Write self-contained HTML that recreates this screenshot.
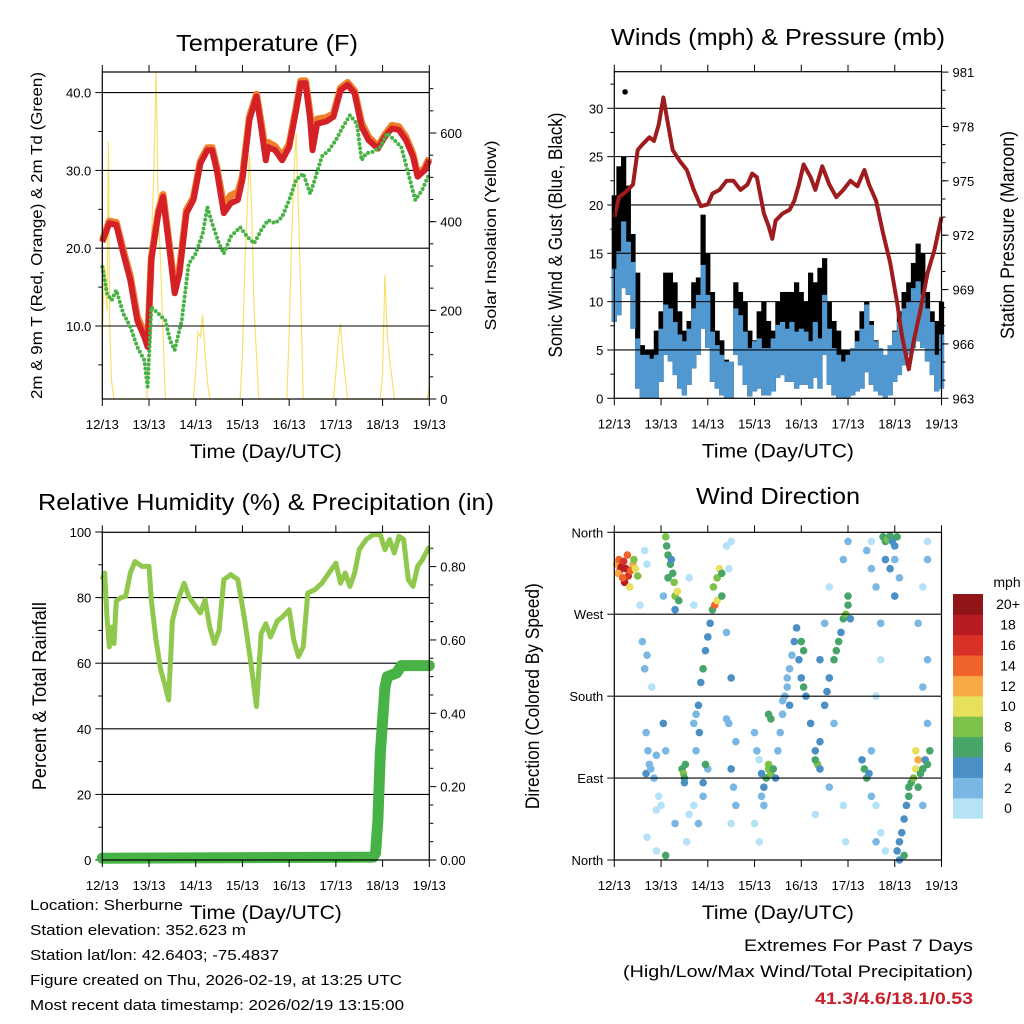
<!DOCTYPE html>
<html><head><meta charset="utf-8"><style>
html,body{margin:0;padding:0;background:#fff}
svg{display:block;font-family:"Liberation Sans",Arial,sans-serif}
</style></head><body>
<svg id="chart" width="1024" height="1024" viewBox="0 0 1024 1024" xmlns="http://www.w3.org/2000/svg">
<rect width="1024" height="1024" fill="#fff"/>
<g id="temp"></g>
<g id="wind"></g>
<g id="rh"></g>
<g id="dir"></g>
<g font-size="15" fill="#000">
<text x="30" y="910" textLength="153" lengthAdjust="spacingAndGlyphs">Location: Sherburne</text>
<text x="30" y="935" textLength="216" lengthAdjust="spacingAndGlyphs">Station elevation: 352.623 m</text>
<text x="30" y="960" textLength="249" lengthAdjust="spacingAndGlyphs">Station lat/lon: 42.6403; -75.4837</text>
<text x="30" y="985" textLength="372" lengthAdjust="spacingAndGlyphs">Figure created on Thu, 2026-02-19, at 13:25 UTC</text>
<text x="30" y="1010" textLength="374" lengthAdjust="spacingAndGlyphs">Most recent data timestamp: 2026/02/19 13:15:00</text>
</g>
<g text-anchor="end">
<text x="973" y="951" font-size="17" textLength="229" lengthAdjust="spacingAndGlyphs">Extremes For Past 7 Days</text>
<text x="973" y="977" font-size="17" textLength="350" lengthAdjust="spacingAndGlyphs">(High/Low/Max Wind/Total Precipitation)</text>
<text x="973" y="1004" font-size="17" font-weight="bold" fill="#c8202a" textLength="158" lengthAdjust="spacingAndGlyphs">41.3/4.6/18.1/0.53</text>
</g>
</svg>
<script>
// ---------- data ----------
const dayLabels = ["12/13","13/13","14/13","15/13","16/13","17/13","18/13","19/13"];
const tDays = [0,0.15,0.3,0.45,0.6,0.75,0.9,0.97,1.05,1.2,1.3,1.45,1.55,1.65,1.8,1.95,2.1,2.25,2.35,2.45,2.6,2.75,2.9,3.0,3.15,3.3,3.4,3.5,3.55,3.7,3.85,4.0,4.15,4.25,4.35,4.45,4.5,4.6,4.8,4.95,5.1,5.25,5.4,5.55,5.7,5.9,6.05,6.2,6.35,6.5,6.65,6.75,6.9,7.0];
const temp2m = [20.8,23.2,23,19.3,15.9,10.7,8.6,7.3,18.5,24.5,26.6,19.3,14.2,16.7,24.5,26.2,30.9,32.6,32.6,30,24.5,25.8,26.2,28.8,36.5,39.5,35.6,31.3,33,32.6,31.3,33,37.8,41.2,41.2,36.5,32.6,36,36.3,36.9,40.3,41,39.9,35.6,33.9,32.8,34.3,35.4,35.2,33.9,31.8,29.2,30,31.3];
const temp9m = [21.0,23.5,23.3,19.7,16.4,11.2,9.1,7.6,18.8,24.8,26.9,19.8,14.8,17.2,24.9,26.5,31.2,32.9,32.9,30.4,25.4,26.8,27.2,29.2,36.9,39.8,36.2,32.2,33.6,33.1,31.8,33.4,38.1,41.5,41.5,37.2,34.0,36.6,36.8,37.3,40.6,41.3,40.2,36.1,34.3,33.1,34.6,35.8,35.6,34.3,32.1,29.5,30.3,31.6];
const tdDays = [0,0.1,0.2,0.3,0.45,0.6,0.75,0.9,0.97,1.05,1.2,1.35,1.45,1.55,1.7,1.85,2.0,2.15,2.25,2.35,2.5,2.6,2.75,2.95,3.1,3.25,3.4,3.55,3.7,3.85,4.0,4.15,4.3,4.45,4.55,4.7,4.85,5.0,5.15,5.3,5.45,5.55,5.65,5.8,5.95,6.1,6.25,6.4,6.55,6.7,6.85,7.0];
const dewpt = [17.6,14.2,13.3,14.6,11.6,9.9,7.3,5.6,2.2,12.4,11.6,10.7,8.2,6.9,10.7,18,19.3,21.9,25.3,23.2,20.6,19.3,21.5,22.7,21.5,20.6,22.3,23.6,23.2,24,26.2,28.8,29.6,27,28.8,31.8,32.6,33.9,35.6,37.1,36,31.3,32.2,32.4,33,34.8,33.9,33,29.6,26.2,27.5,29.6];
const solarDays = [0,0.05,0.1,0.13,0.16,0.2,0.25,0.95,1.0,1.05,1.1,1.15,1.2,1.25,1.3,1.35,1.95,2.0,2.05,2.1,2.15,2.2,2.25,2.3,2.95,3.0,3.05,3.1,3.15,3.2,3.25,3.3,3.35,3.95,4.0,4.05,4.1,4.15,4.2,4.25,4.3,4.95,5.0,5.05,5.1,5.15,5.2,5.25,5.95,6.0,6.05,6.1,6.15,6.2,6.25,6.95,7.0];
const solarVals = [140,300,200,580,150,40,0,0,100,350,500,740,420,300,150,0,0,60,150,140,190,100,40,0,0,100,300,420,550,420,200,100,0,0,150,350,500,600,420,230,0,0,60,130,170,100,50,0,0,60,280,140,90,50,0,0,25];

const presDays = [0,0.1,0.25,0.4,0.5,0.6,0.75,0.85,0.95,1.05,1.15,1.25,1.4,1.55,1.7,1.85,2.0,2.1,2.25,2.4,2.55,2.7,2.85,2.95,3.05,3.2,3.3,3.38,3.45,3.6,3.75,3.85,3.95,4.05,4.2,4.3,4.45,4.6,4.75,4.9,5.05,5.2,5.35,5.45,5.6,5.75,5.9,6.05,6.15,6.3,6.4,6.55,6.7,6.85,7.0];
const pressure = [973.0,974.1,974.4,974.8,976.7,977.0,977.4,977.2,978.1,979.6,978.1,976.7,976.1,975.6,974.5,973.6,973.7,974.3,974.5,975.0,975.0,974.5,974.8,975.4,975.2,973.2,972.5,971.8,972.8,973.2,973.4,973.9,974.8,975.9,975.2,974.5,975.8,974.8,974.1,974.5,975.0,974.7,975.6,974.8,973.9,972.1,970.5,968.3,966.5,964.6,966.1,967.9,969.9,971.2,973.0];
const windHi = [13.4,15.2,18.3,16.2,14.1,6.2,4.5,4.5,4.1,4.5,7.2,9.7,9.3,7.9,6.6,5.9,7.2,9.3,10.7,13.8,10.7,6.9,5.5,4.5,3.8,3.8,9.3,8.6,6.9,5.2,5.9,6.2,5.2,5.2,6.2,7.6,7.9,7.2,7.9,6.9,7.2,6.9,5.9,7.9,6.2,10.7,7.2,5.2,4.5,3.8,4.5,5.2,5.9,7.2,9.7,7.6,5.9,5.2,4.5,5.5,6.9,7.9,9.3,10,11.4,12.1,10.7,9.3,7.9,4.5,6.6];
const windLo = [7.9,8.6,11.4,10.7,7.2,1,0,0,0,0,1.7,4.5,3.8,2.4,1,0.3,1.4,3.1,4.5,7.2,5.2,1.7,1,0.3,0,0,4.5,3.4,1.4,0.2,0.7,1,0.3,0.3,0.7,2.1,2.4,1.7,1.7,1,1.4,1.4,1,2.1,1,4.5,1.4,0.3,0,0,0,0.3,0.7,1,2.7,1.4,0.7,0.3,0,0.3,1.7,2.4,3.4,4.5,5.2,5.9,5.2,3.8,2.4,0.7,1];
const gustHi = [21,24,25,22,17,13,5.5,5,5,7,9,13,13,12,9,7,8,12,12.5,19,15,11,7,6,4,3.8,12,11,10,7,6,9,10,8,7,10,11,11,11,12,11,10,13,12,13.5,14.5,10,8,7,5,5,5,7,9,10,8,6,4.5,4,5,7,9,11,12,14,16,15,11,9,8,10];
const gustOutlierDay = [0.23];
const gustOutlierVal = [31.7];

const rhDays = [0,0.05,0.1,0.15,0.2,0.25,0.3,0.4,0.5,0.6,0.7,0.85,1.0,1.05,1.15,1.25,1.35,1.42,1.5,1.6,1.75,1.85,1.95,2.1,2.2,2.3,2.4,2.5,2.6,2.75,2.9,3.05,3.2,3.3,3.4,3.5,3.6,3.75,3.85,4.0,4.1,4.2,4.3,4.4,4.55,4.7,4.85,5.0,5.1,5.2,5.3,5.4,5.5,5.65,5.8,5.95,6.05,6.15,6.25,6.35,6.45,6.55,6.65,6.75,6.85,7.0];
const rhVals = [85.5,87.5,74,65,71,66,79,80,80.4,87.5,91,89.5,89.5,79.3,67,58,52.9,48.8,73,78.3,84.4,80.4,78.3,75.3,79.3,71,66,70,85.5,87,85.5,73,58,46.8,69,72,68,73,74,76.3,67,62,65,81.4,82.4,84.4,87.5,90.5,84.4,87.5,83.4,87.5,94.6,97.7,99.2,99.2,94.6,97.7,93.6,98.7,97.7,85.5,83.4,89.5,91.5,95.6];
const prDays = [0,5.8,5.85,5.9,5.95,6.0,6.05,6.1,6.3,6.4,7.0];
const prVals = [0.005,0.008,0.02,0.11,0.29,0.38,0.47,0.5,0.51,0.53,0.53];

const dirDays = [0.05,0.1,0.12,0.15,0.2,0.25,0.3,0.22,0.35,0.4,0.45,0.5,0.28,0.08,0.18,0.33,0.42,
0.65,0.7,0.55,0.6,0.7,0.65,0.8,0.68,0.72,0.75,0.68,0.78,0.85,0.9,0.95,0.9,0.7,0.9,1.1,
1.1,1.12,1.15,1.2,1.25,1.28,1.3,1.35,1.38,1.15,1.22,1.3,1.05,
1.45,1.48,1.5,1.52,1.5,1.05,1.1,1.0,1.3,1.6,1.55,1.6,1.7,
1.7,1.75,1.8,1.85,1.9,1.95,2.0,2.05,2.1,2.15,2.2,2.12,2.2,2.25,2.3,2.3,1.82,1.75,1.7,1.8,1.9,2.0,1.9,1.95,
2.4,2.5,2.45,2.4,2.5,2.45,2.5,2.55,2.6,2.5,2.4,2.6,
3.0,3.05,3.1,3.15,3.2,3.25,3.3,3.3,3.35,3.4,3.45,3.2,3.0,3.1,3.3,3.35,3.15,
3.5,3.55,3.6,3.65,3.7,3.75,3.8,3.85,3.95,4.0,4.05,4.1,3.9,4.0,4.05,3.6,3.7,3.75,4.2,4.3,4.35,4.3,4.4,4.4,4.5,4.55,4.6,4.7,4.75,4.8,4.85,4.9,4.95,5.0,5.05,5.0,4.9,5.0,
4.3,4.4,4.5,4.6,4.7,4.6,4.9,4.95,
5.3,5.35,5.4,5.45,5.5,5.5,5.6,5.7,5.8,5.6,5.5,5.4,5.5,5.6,5.7,5.7,5.6,
5.75,5.8,5.85,5.9,5.95,6.0,6.05,5.8,5.9,6.0,6.1,6.0,
6.05,6.1,6.15,6.2,6.25,6.3,6.3,6.35,6.4,6.45,6.5,6.55,6.45,6.5,6.6,6.65,6.7,6.75,6.2,6.1,6.7,6.6,6.7,6.5,6.6,6.7,6.7,6.6];
const dirDeg = [325,330,318,322,328,320,312,305,318,325,320,312,335,315,310,300,330,
340,325,280,240,225,210,190,140,120,105,95,100,90,115,70,55,25,10,5,
355,345,335,325,315,305,290,295,285,310,330,275,290,
100,95,90,105,85,150,120,60,40,50,20,310,280,
150,160,170,195,210,230,245,260,275,280,285,300,310,320,315,290,140,120,60,40,70,100,85,105,
345,350,320,250,200,150,100,80,60,40,155,130,
140,120,110,95,80,90,100,105,95,100,90,60,40,20,160,155,70,
120,140,160,180,200,210,225,240,220,200,190,180,255,240,230,175,190,170,150,120,105,110,100,130,170,185,200,220,230,240,250,265,270,280,265,290,330,350,
50,220,260,300,150,80,60,20,
110,100,90,95,70,120,60,30,10,20,350,340,320,300,260,220,180,
355,350,352,356,350,345,355,330,320,330,310,290,
10,20,30,45,60,70,80,85,90,100,110,95,120,80,100,110,105,120,5,0,150,190,220,260,300,330,350,60];
const dirSpd = [12,14,16,18,16,18,16,18,14,12,10,8,14,12,14,10,8,
1,1,1,2,2,3,1,3,2,3,4,3,2,2,1,0,1,1,6,
8,6,6,6,6,8,8,10,6,6,4,4,2,
6,8,6,6,4,4,2,1,2,1,1,1,1,
2,2,4,4,6,4,4,4,6,14,10,8,8,10,6,6,4,2,1,2,2,2,4,6,
1,1,1,2,4,2,4,2,2,1,2,2,
2,2,1,4,4,6,8,8,8,6,4,2,1,1,6,6,2,
2,2,2,2,2,2,2,4,4,4,6,4,4,6,6,2,2,4,4,4,8,6,4,4,4,4,4,6,6,6,4,6,8,6,4,6,2,2,
1,4,2,1,2,2,1,1,
4,6,6,4,2,2,1,1,1,2,1,2,2,2,2,1,1,
6,6,8,6,4,4,6,4,4,2,2,4,
4,4,4,4,4,6,6,6,8,10,12,6,10,6,6,4,6,6,6,4,2,2,2,2,1,2,1,2];
const speedColors = ["#b6e2f7","#7ab7e2","#4a8fc6","#47a56a","#7cc14a","#e6e05a","#f7a945","#ef6229","#d93127","#b71c22","#8f1519"];
const speedLabels = ["0","2","4","6","8","10","12","14","16","18","20+"];

// ---------- helpers ----------
const NS = "http://www.w3.org/2000/svg";
function mk(parent, tag, attrs, text) {
  const e = document.createElementNS(NS, tag);
  for (const k in attrs) e.setAttribute(k, attrs[k]);
  if (text !== undefined) e.textContent = text;
  parent.appendChild(e);
  return e;
}
function linear(d0, d1, r0, r1) { return v => r0 + (v - d0) * (r1 - r0) / (d1 - d0); }
function pathFrom(xs, ys, fx, fy) {
  return xs.map((x, i) => (i ? "L" : "M") + fx(x).toFixed(1) + "," + fy(ys[i]).toFixed(1)).join("");
}
function seqDays(n) { const a = []; for (let i = 0; i < n; i++) a.push(i * 7 / (n - 1)); return a; }

function frame(g, P, fx) {
  dayLabels.forEach((lab, i) => {
    const x = fx(i);
    const tb = mk(g, "line", {x1:x, x2:x, y1:P.y1, y2:P.y1 + 7, stroke:"#000", "stroke-width":1});
    
    
    const tt = mk(g, "line", {x1:x, x2:x, y1:P.y0, y2:P.y0 - 7, stroke:"#000", "stroke-width":1});
    
    
    const t = mk(g, "text", {x:x, y:P.y1 + 30, "font-size":13, "text-anchor":"middle", textLength:33, lengthAdjust:"spacingAndGlyphs"}, lab);
    
    
  });
  const xt = mk(g, "text", {x:(P.x0 + P.x1) / 2, y:P.y1 + 59, "font-size":19, "text-anchor":"middle", textLength:152, lengthAdjust:"spacingAndGlyphs"}, "Time (Day/UTC)");
  
  
}
function yAxis(g, P, fy, ticks, minors, fmt, side, grid) {
  const xe = side === "left" ? P.x0 : P.x1;
  const dir = side === "left" ? -1 : 1;
  minors.forEach(v => {
    const y = fy(v);
    const m = mk(g, "line", {x1:xe, x2:xe + dir * 4, y1:y, y2:y, stroke:"#000", "stroke-width":1});
    
    
  });
  ticks.forEach(v => {
    const y = fy(v);
    if (grid && y > P.y0 + 2 && y < P.y1 - 2) {
      const gl = mk(g, "line", {x1:P.x0, x2:P.x1, y1:y, y2:y, stroke:"#000", "stroke-width":1.1});
      
      
    }
    const t = mk(g, "line", {x1:xe, x2:xe + dir * 7, y1:y, y2:y, stroke:"#000", "stroke-width":1});
    
    
    const lab = mk(g, "text", {x:xe + dir * 11, y:y + 5, "font-size":13, "text-anchor":side === "left" ? "end" : "start"}, fmt(v));
    
    
  });
}
function border(g, P) {
  const b = mk(g, "rect", {x:P.x0, y:P.y0, width:P.x1 - P.x0, height:P.y1 - P.y0, fill:"none", stroke:"#000", "stroke-width":1.2});
  
  
}
function titles(g, P, title, cx, ty, tlen, lt, lx, llen, rt, rx, rlen, fs) {
  const t = mk(g, "text", {x:cx, y:ty, "font-size":23, "text-anchor":"middle", textLength:tlen, lengthAdjust:"spacingAndGlyphs"}, title);
  
  
  const cy = (P.y0 + P.y1) / 2;
  const l = mk(g, "text", {x:lx, y:cy, "font-size":fs, "text-anchor":"middle", transform:`rotate(-90 ${lx} ${cy})`, textLength:llen, lengthAdjust:"spacingAndGlyphs"}, lt);
  
  
  if (rt) {
    const r = mk(g, "text", {x:rx, y:cy, "font-size":fs, "text-anchor":"middle", transform:`rotate(-90 ${rx} ${cy})`, textLength:rlen, lengthAdjust:"spacingAndGlyphs"}, rt);
    
    
  }
}
function range(a, b, s) { const r = []; for (let v = a; v <= b + 1e-9; v += s) r.push(+v.toFixed(4)); return r; }

// ---------- Temperature panel ----------
(function () {
  const g = document.getElementById("temp");
  const P = {x0:102.3, x1:429.3, y0:72, y1:399};
  const fx = linear(0, 7, P.x0, P.x1);
  const fy = linear(10, 40, 326, 92.6);
  const fs = linear(0, 600, 399, 133);
  const sp = mk(g, "path", {d:pathFrom(solarDays, solarVals, fx, fs), fill:"none", stroke:"#f8e06a", "stroke-width":1.2});
  
  
  yAxis(g, P, fy, [10,20,30,40], [5,15,25,35], v => v.toFixed(1), "left", true);
  yAxis(g, P, fs, [0,200,400,600], range(50,700,50), v => String(v), "right", false);
  const o = mk(g, "path", {d:pathFrom(tDays, temp9m, fx, fy), fill:"none", stroke:"#f07f2c", "stroke-width":7, "stroke-linejoin":"round"});
  
  
  const r = mk(g, "path", {d:pathFrom(tDays, temp2m, fx, fy), fill:"none", stroke:"#d42027", "stroke-width":6, "stroke-linejoin":"round"});
  
  
  const d = mk(g, "path", {d:pathFrom(tdDays, dewpt, fx, fy), fill:"none", stroke:"#47b245", "stroke-width":4, "stroke-dasharray":"0 4.5", "stroke-linecap":"round"});
  
  
  border(g, P);
  frame(g, P, fx);
  titles(g, P, "Temperature (F)", 267, 51, 182, "2m & 9m T (Red, Orange) & 2m Td (Green)", 42, 327, "Solar Insolation (Yellow)", 496, 190, 15.5);
})();

// ---------- Wind panel ----------
(function () {
  const g = document.getElementById("wind");
  const P = {x0:614.3, x1:941.5, y0:71.7, y1:398.3};
  const fx = linear(0, 7, P.x0, P.x1);
  const fy = linear(0, 30, 398.3, 108.3);
  const fp = linear(963, 981, 398.3, 72.1);
  const wd = seqDays(windHi.length);
  const bw = (P.x1 - P.x0) / windHi.length + 0.6;
  wd.forEach((dd, i) => {
    const x = fx(dd);
    const b = mk(g, "rect", {x:x - bw / 2, y:fy(gustHi[i]), width:bw, height:fy(windLo[i]) - fy(gustHi[i]), fill:"#000"});
    
    
  });
  wd.forEach((dd, i) => {
    const x = fx(dd);
    const b = mk(g, "rect", {x:x - bw / 2, y:fy(windHi[i]), width:bw, height:fy(windLo[i]) - fy(windHi[i]), fill:"#5298d0"});
    
    
  });
  gustOutlierDay.forEach((dd, i) => {
    const c = mk(g, "circle", {cx:fx(dd), cy:fy(gustOutlierVal[i]), r:2.8, fill:"#000"});
    
    
  });
  yAxis(g, P, fy, [0,5,10,15,20,25,30], [2.5,7.5,12.5,17.5,22.5,27.5,32.5], v => String(v), "left", true);
  yAxis(g, P, fp, [963,966,969,972,975,978,981], range(964,980,1), v => String(v), "right", false);
  const p = mk(g, "path", {d:pathFrom(presDays, pressure, fx, fp), fill:"none", stroke:"#9e1b1e", "stroke-width":4, "stroke-linejoin":"round"});
  
  
  border(g, P);
  frame(g, P, fx);
  titles(g, P, "Winds (mph) & Pressure (mb)", 778, 45, 334, "Sonic Wind & Gust (Blue, Black)", 562, 245, "Station Pressure (Maroon)", 1014, 208, 19);
})();

// ---------- RH panel ----------
(function () {
  const g = document.getElementById("rh");
  const P = {x0:102.3, x1:429.3, y0:532.3, y1:860};
  const fx = linear(0, 7, P.x0, P.x1);
  const fy = linear(0, 100, 860, 532);
  const fq = linear(0, 0.8, 860, 566.6);
  yAxis(g, P, fy, [0,20,40,60,80,100], [10,30,50,70,90], v => String(v), "left", true);
  yAxis(g, P, fq, [0,0.2,0.4,0.6,0.8], range(0.05,0.85,0.05).filter(v => Math.abs(v*5 - Math.round(v*5)) > 0.01), v => v.toFixed(2), "right", false);
  const h = mk(g, "path", {d:pathFrom(rhDays, rhVals, fx, fy), fill:"none", stroke:"#90c84e", "stroke-width":5, "stroke-linejoin":"round"});
  
  
  const q = mk(g, "path", {d:pathFrom(prDays, prVals, fx, fq), fill:"none", stroke:"#47b245", "stroke-width":11, "stroke-linejoin":"round", "stroke-linecap":"round"});
  
  
  border(g, P);
  frame(g, P, fx);
  titles(g, P, "Relative Humidity (%) & Precipitation (in)", 266, 510, 456, "Percent & Total Rainfall", 46, 188, null, 0, 0, 19);
})();

// ---------- Direction panel ----------
(function () {
  const g = document.getElementById("dir");
  const P = {x0:614.3, x1:941.5, y0:532.3, y1:860};
  const fx = linear(0, 7, P.x0, P.x1);
  const fy = linear(0, 360, 860, 532.3);
  dirDays.forEach((dd, i) => {
    const idx = Math.min(10, Math.floor(dirSpd[i] / 2));
    const c = mk(g, "circle", {cx:fx(dd), cy:fy(dirDeg[i]), r:3.8, fill:speedColors[idx]});
    
    
  });
  yAxis(g, P, fy, [0,90,180,270,360], [], v => ["North","East","South","West","North"][v / 90], "left", true);
  border(g, P);
  frame(g, P, fx);
  titles(g, P, "Wind Direction", 778, 504, 164, "Direction (Colored By Speed)", 539, 226, null, 0, 0, 19);
  const bh = 20.4, top = 594;
  speedLabels.forEach((lab, i) => {
    const y = top + (10 - i) * bh;
    const r = mk(g, "rect", {x:953, y:y, width:30, height:bh + 0.3, fill:speedColors[i]});
    
    
    const t = mk(g, "text", {x:1008, y:y + bh / 2 + 5, "font-size":14, "text-anchor":"middle"}, lab);
    
    
  });
  const u = mk(g, "text", {x:1007, y:587, "font-size":14, "text-anchor":"middle"}, "mph");
  
  
})();
</script>
</body></html>
